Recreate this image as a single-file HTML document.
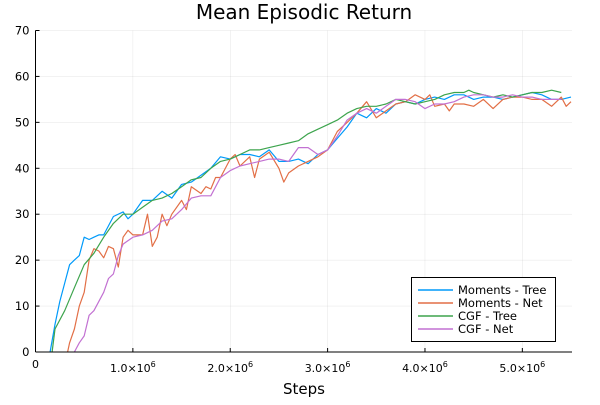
<!DOCTYPE html>
<html><head><meta charset="utf-8"><style>
body{margin:0;background:#fff}
svg{font-family:"DejaVu Sans","Liberation Sans",sans-serif}
</style></head><body>
<svg id="chart" width="600" height="400" viewBox="0 0 600 400">
<rect width="600" height="400" fill="#fff"/>
<text x="304" y="19" text-anchor="middle" font-size="20" fill="#000">Mean Episodic Return</text>
<g id="grid"></g>
<g id="series"></g>
<g id="axes"></g>
<text x="304" y="394" text-anchor="middle" font-size="15" fill="#000">Steps</text>
<g>
<rect x="411.5" y="277.5" width="144" height="64" fill="#fff" stroke="#000" stroke-width="1"/>
<g><line x1="418" y1="290" x2="453" y2="290" stroke="#009afa" stroke-width="1.5"/><text x="458" y="294" font-size="11.5">Moments - Tree</text></g>
<g><line x1="418" y1="303" x2="453" y2="303" stroke="#e26f46" stroke-width="1.5"/><text x="458" y="307" font-size="11.5">Moments - Net</text></g>
<g><line x1="418" y1="316" x2="453" y2="316" stroke="#3da44d" stroke-width="1.5"/><text x="458" y="320" font-size="11.5">CGF - Tree</text></g>
<g><line x1="418" y1="329" x2="453" y2="329" stroke="#c271d2" stroke-width="1.5"/><text x="458" y="333" font-size="11.5">CGF - Net</text></g>
</g>
</svg>
<script>
const xTicks=[0,1,2,3,4,5];
const yTicks=[0,10,20,30,40,50,60,70];
const mtX=[0.15,0.2,0.25,0.3,0.35,0.4,0.45,0.5,0.55,0.6,0.65,0.7,0.8,0.9,0.95,1.0,1.1,1.2,1.3,1.4,1.5,1.6,1.7,1.8,1.9,2.0,2.1,2.2,2.3,2.4,2.5,2.6,2.7,2.8,2.9,3.0,3.1,3.2,3.3,3.4,3.5,3.6,3.7,3.8,3.9,4.0,4.1,4.2,4.3,4.4,4.5,4.6,4.7,4.8,4.9,5.0,5.1,5.2,5.3,5.4,5.5];
const mtY=[0,6,11,15,19,20,21,25,24.5,25,25.5,25.5,29.5,30.5,29,30,33,33,35,33.5,36.5,37,38.5,40,42.5,42,43,43,42.5,44,41.5,41.5,42,41,43,44,46.5,49,52,51,53,52,54,54.5,54,55,55.5,55,56,56,55,55.5,55.5,55,55.5,56,56.5,56,55,55,55.5];
const mnX=[0.33,0.35,0.4,0.45,0.5,0.55,0.6,0.65,0.7,0.75,0.8,0.85,0.9,0.95,1.0,1.1,1.15,1.2,1.25,1.3,1.35,1.4,1.5,1.55,1.6,1.7,1.75,1.8,1.85,1.9,2.0,2.05,2.1,2.2,2.25,2.3,2.4,2.5,2.55,2.6,2.7,2.8,2.9,3.0,3.1,3.2,3.3,3.4,3.5,3.6,3.7,3.8,3.9,4.0,4.05,4.1,4.2,4.25,4.3,4.4,4.5,4.6,4.7,4.8,4.9,5.0,5.1,5.2,5.3,5.4,5.45,5.5];
const mnY=[0,2,5,10,13,20,22.5,22,20.5,23,22.5,18.5,25,26.5,25.5,25.5,30,23,25,30,27.5,30,33,31,36,34.5,36,35.5,38,38,42,43,40.5,42.5,38,42,43.5,40,37,39,40.5,41.5,42.5,44,48,50,52,54.5,51,52.5,54,54.5,56,55,56,53.5,54,52.5,54,54,53.5,55,53,55,55.5,55.5,55,55,53.5,55.5,53.5,54.5];
const ctX=[0.17,0.2,0.3,0.4,0.5,0.6,0.7,0.8,0.9,1.0,1.1,1.2,1.3,1.4,1.5,1.6,1.7,1.8,1.9,2.0,2.1,2.2,2.3,2.4,2.5,2.6,2.7,2.8,2.9,3.0,3.1,3.2,3.3,3.4,3.5,3.6,3.7,3.8,3.9,4.0,4.1,4.2,4.3,4.4,4.45,4.5,4.6,4.7,4.8,4.9,5.0,5.1,5.2,5.3,5.4];
const ctY=[0,5,9,14,19,21.5,25,28,30,30,31.5,33,33.5,34.5,36,37.5,38,40,41.5,42,43,44,44,44.5,45,45.5,46,47.5,48.5,49.5,50.5,52,53,53.5,53.5,54,55,54.5,54,54.5,55,56,56.5,56.5,57,56.5,56,55.5,56,55.5,56,56.5,56.5,57,56.5];
const cnX=[0.4,0.45,0.5,0.55,0.6,0.7,0.75,0.8,0.85,0.9,1.0,1.1,1.2,1.3,1.4,1.5,1.6,1.7,1.8,1.9,2.0,2.1,2.2,2.3,2.4,2.5,2.6,2.7,2.8,2.9,3.0,3.1,3.2,3.3,3.4,3.5,3.6,3.7,3.8,3.9,4.0,4.1,4.2,4.3,4.4,4.5,4.6,4.7,4.8,4.9,5.0,5.1,5.2,5.3,5.4];
const cnY=[0,2,3.5,8,9,13,16,17,21,23.5,25,25.5,26.5,28.5,29,31,33.5,34,34,38,39.5,40.5,41,41.5,42,42,41.5,44.5,44.5,43,44,47,50.5,52,53,52,53.5,55,55,54.5,53,54,54,54.5,55.5,56,56,55.5,55.5,56,55.5,55.5,55,55,55];
const NS="http://www.w3.org/2000/svg";
const L=35.5,R=572,T=30.5,B=352;
const X0=0,X1=5.51,Y0=0,Y1=70;
function sx(v){return L+(v-X0)/(X1-X0)*(R-L);}
function sy(v){return B-(v-Y0)/(Y1-Y0)*(B-T);}
function mk(tag,attrs,parent){const e=document.createElementNS(NS,tag);for(const k in attrs)e.setAttribute(k,attrs[k]);parent.appendChild(e);return e;}
const grid=document.getElementById('grid'),axes=document.getElementById('axes'),series=document.getElementById('series');
xTicks.forEach(t=>{
  const gl=mk('line',{x1:sx(t),x2:sx(t),y1:T,y2:B,stroke:'#000','stroke-opacity':0.1,'stroke-width':0.5},grid);
  
  
  const tk=mk('line',{x1:sx(t),x2:sx(t),y1:B,y2:B-4,stroke:'#000','stroke-width':1},axes);
  
  
  const tx=mk('text',{x:sx(t),y:B+20,'text-anchor':'middle','font-size':11,fill:'#000'},axes);
  
  
  if(t===0){tx.setAttribute('y',B+16);tx.textContent='0';}
  else{tx.textContent=t.toFixed(1)+'×10';const s=document.createElementNS(NS,'tspan');s.setAttribute('dy','-5');s.setAttribute('font-size','8');s.textContent='6';tx.appendChild(s);}
});
yTicks.forEach(t=>{
  const gl=mk('line',{x1:L,x2:R,y1:sy(t),y2:sy(t),stroke:'#000','stroke-opacity':0.1,'stroke-width':0.5},grid);
  
  
  const tk=mk('line',{x1:L,x2:L+4,y1:sy(t),y2:sy(t),stroke:'#000','stroke-width':1},axes);
  
  
  const tx=mk('text',{x:L-6,y:sy(t)+4,'text-anchor':'end','font-size':11.5,fill:'#000'},axes);
  
  
  tx.textContent=String(t);
});
const ax1=mk('line',{x1:L,x2:L,y1:T,y2:B,stroke:'#000','stroke-width':1},axes);


const ax2=mk('line',{x1:L,x2:R,y1:B,y2:B,stroke:'#000','stroke-width':1},axes);


function line(xs,ys,color,name){
  const d=xs.map((x,i)=>(i?'L':'M')+sx(x).toFixed(1)+','+sy(ys[i]).toFixed(1)).join('');
  const p=mk('path',{d:d,fill:'none',stroke:color,'stroke-width':1.2,'stroke-linejoin':'round'},series);
  
  
}
line(mtX,mtY,'#009afa','moments-tree-line');
line(mnX,mnY,'#e26f46','moments-net-line');
line(ctX,ctY,'#3da44d','cgf-tree-line');
line(cnX,cnY,'#c271d2','cgf-net-line');
</script>
</body></html>
